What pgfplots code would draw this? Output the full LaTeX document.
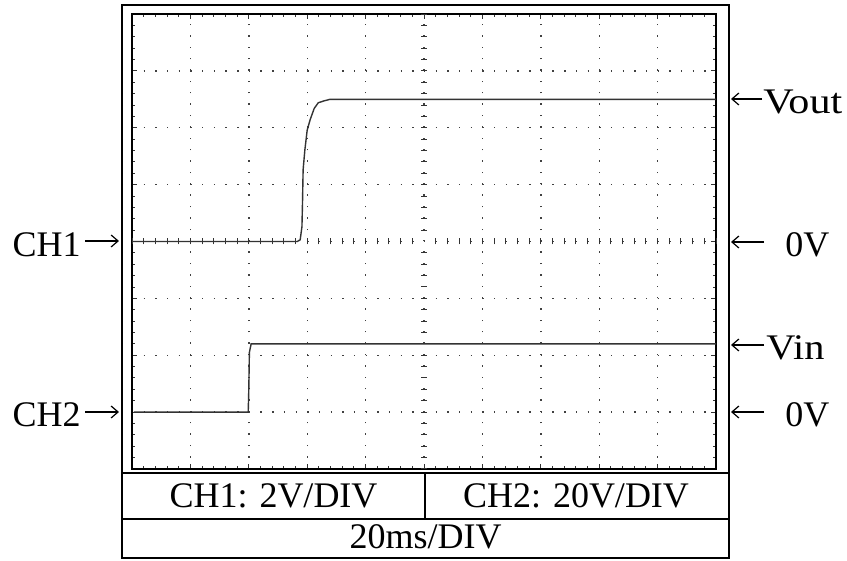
\documentclass[border=0pt]{standalone}
\usepackage{fontspec}
\setmainfont{Liberation Serif}
\usepackage{pgfplots}
\pgfplotsset{compat=1.18}
\usetikzlibrary{arrows.meta}
\begin{document}
\fontsize{18}{21}\selectfont
\begin{tikzpicture}[sarrow/.style={-{Straight Barb[length=3.5pt,width=6pt]}, line width=0.6pt}]
\useasboundingbox (0,0) rectangle (423.5pt,280.5pt);
% screen with dotted graticule, 10 x 8 divisions
\begin{axis}[at={(66pt,46pt)}, anchor=south west, scale only axis,
  width=292pt, height=227.5pt,
  xmin=0, xmax=10, ymin=-4, ymax=4,
  xtick={0,...,10}, ytick={-4,...,4}, xticklabels={}, yticklabels={},
  minor tick num=4, tick align=inside,
  major tick length=2.5pt, minor tick length=1.6pt,
  tick style={black!80, line width=0.5pt},
  grid=major,
  major x grid style={black!75, line width=0.7pt, dash pattern=on 0.7pt off 4.99pt},
  major y grid style={black!75, line width=0.7pt, dash pattern=on 0.7pt off 5.14pt},
  axis line style={line width=0.8pt}]
% Vout (CH1, 2V/div)
\addplot[black!80, line width=0.7pt] coordinates {
  (0,0) (2.83,0) (2.88,0.03) (2.91,0.26) (2.92,0.70) (2.93,1.26) (2.96,1.61)
  (3.00,1.96) (3.05,2.14) (3.12,2.34) (3.19,2.44) (3.28,2.47) (3.39,2.50) (10,2.50)};
% Vin (CH2, 20V/div)
\addplot[black!80, line width=0.7pt] coordinates {
  (0.03,-3) (1.99,-3) (2.00,-2.6) (2.01,-1.95) (2.04,-1.80) (10,-1.80)};
\end{axis}
% centre axes with fine ticks
\begin{axis}[at={(66pt,46pt)}, anchor=south west, scale only axis,
  width=292pt, height=227.5pt,
  xmin=-5, xmax=5, ymin=-4, ymax=4,
  axis lines=center, axis line style={draw=none},
  xtick distance=0.2, ytick distance=0.2,
  xticklabels={}, yticklabels={},
  tick align=center, major tick length=3pt,
  tick style={black!80, line width=0.5pt}]
\end{axis}
\begin{scope}[x=0.5pt, y=0.5pt]
\draw[line width=1.3pt] (122,3) rectangle (729,556);
\draw[line width=1pt] (122,88) -- (729,88);
\draw[line width=1pt] (122,42) -- (729,42);
\draw[line width=0.8pt] (425,42) -- (425,88);
\node[anchor=base, inner sep=0] at (273.5,53) {CH1: 2V/DIV};
\node[anchor=base, inner sep=0] at (576,53) {CH2: 20V/DIV};
\node[anchor=base, inner sep=0] at (425.5,12) {20ms/DIV};
% left markers
\node[anchor=base east, inner sep=0] at (81,304) {CH1};
\draw[sarrow] (85,320) -- (119,320);
\node[anchor=base east, inner sep=0] at (81,134) {CH2};
\draw[sarrow] (85,149) -- (119,149);
% right markers
\draw[sarrow] (762,462) -- (731,462);
\node[anchor=base west, inner sep=0, xscale=1.17] at (763,447) {Vout};
\draw[sarrow] (764,319) -- (731,319);
\node[anchor=base west, inner sep=0] at (785,304) {0V};
\draw[sarrow] (764,216) -- (731,216);
\node[anchor=base west, inner sep=0, xscale=1.12] at (766,201) {Vin};
\draw[sarrow] (764,149) -- (731,149);
\node[anchor=base west, inner sep=0] at (785,134) {0V};
\end{scope}
\end{tikzpicture}
\end{document}
